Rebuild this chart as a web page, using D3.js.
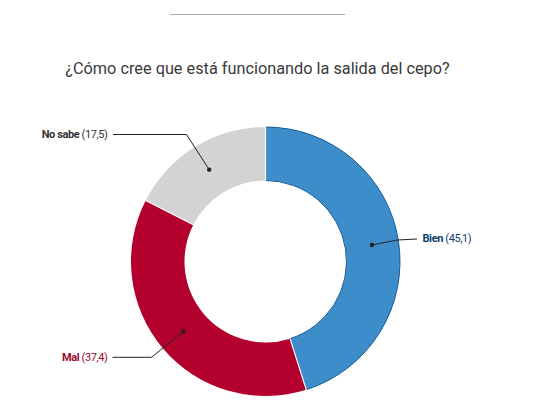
<!DOCTYPE html>
<html><head><meta charset="utf-8">
<script src="https://cdn.jsdelivr.net/npm/d3@7"></script>
<style>body{margin:0;background:#fff}</style>
</head><body>
<svg id="c" width="537" height="417"></svg>
<script>
const title = "¿Cómo cree que está funcionando la salida del cepo?";
const categories = ["Bien", "Mal", "No sabe"];
const values = [45.1, 37.4, 17.5];
const valueLabels = ["45,1", "37,4", "17,5"];
const fillColors = ["#3d8dca", "#b4002d", "#d3d3d3"];
const textColors = ["#0c3c6e", "#9a0a2a", "#333333"];

const svg = d3.select("#c");
const cx = 265.5, cy = 261.5, rO = 134.5, rI = 81;

svg.append("line").attr("x1",170).attr("x2",345).attr("y1",14.5).attr("y2",14.5)
  .attr("stroke","#aaaaaa").attr("stroke-width",1.2);

svg.append("text").attr("x",257.5).attr("y",73.5).attr("text-anchor","middle")
  .attr("font-family","Roboto, sans-serif").attr("font-size",16.3).attr("fill","#3a3a3a")
  .text(title);

const data = categories.map((c,i)=>({cat:c, value:values[i], lab:valueLabels[i], fill:fillColors[i], tc:textColors[i]}));
const pie = d3.pie().value(d=>d.value).sort(null);
const arcs = pie(data);
const arc = d3.arc().innerRadius(rI).outerRadius(rO);
const g = svg.append("g").attr("transform",`translate(${cx},${cy})`);

g.selectAll("path").data(arcs).join("path")
  .attr("d",arc).attr("fill",d=>d.data.fill)
  .attr("stroke",(d,i)=>i===0?"#175a98":"none").attr("stroke-width",1);
g.selectAll("line.sep").data(arcs).join("line").attr("class","sep")
  .attr("x1",d=>Math.sin(d.startAngle)*rI).attr("y1",d=>-Math.cos(d.startAngle)*rI)
  .attr("x2",d=>Math.sin(d.startAngle)*(rO+1)).attr("y2",d=>-Math.cos(d.startAngle)*(rO+1))
  .attr("stroke","#fff").attr("stroke-width",1.2);

const leaders = [
  {elbow:[397.5,240], end:[417,239], tx:422.5, ty:242, anchor:"start"},
  {elbow:[151.5,357.3], end:[112.5,357.3], tx:107.5, ty:361, anchor:"end"},
  {elbow:[186.5,134.5], end:[113,134.5], tx:107.5, ty:138, anchor:"end"}
];
arcs.forEach((a,i)=>{
  const c = arc.centroid(a);
  const p0 = [c[0]+cx, c[1]+cy];
  const L = leaders[i];
  svg.append("polyline").attr("points",[p0,L.elbow,L.end].map(p=>p.join(",")).join(" "))
    .attr("fill","none").attr("stroke","#222").attr("stroke-width",1);
  svg.append("circle").attr("cx",p0[0]).attr("cy",p0[1]).attr("r",2.2).attr("fill","#222");
  const t = svg.append("text").attr("x",L.tx).attr("y",L.ty).attr("text-anchor",L.anchor)
    .attr("font-family","Roboto, sans-serif").attr("font-size",11).attr("letter-spacing",-0.4)
    .attr("fill",a.data.tc);
  t.append("tspan").attr("font-weight","bold").text(a.data.cat);
  t.append("tspan").text(" ("+a.data.lab+")");
});
</script>
</body></html>
